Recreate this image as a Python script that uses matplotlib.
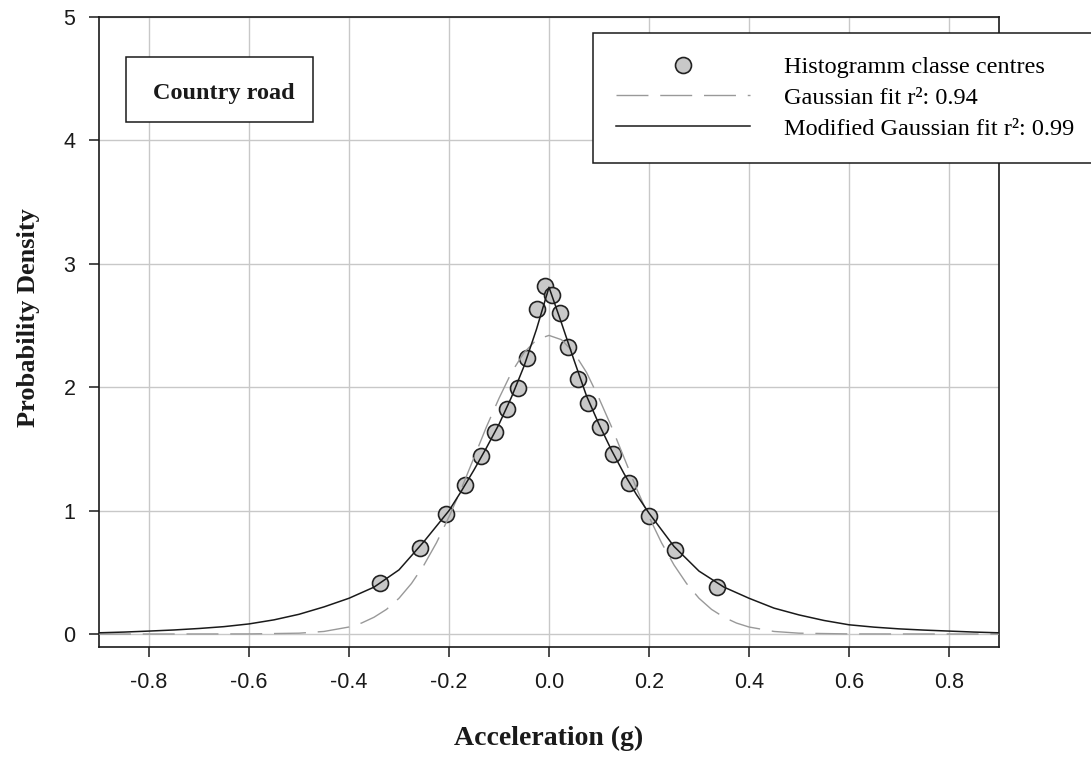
# Densidad de probabilidad de la aceleracion - carretera (Country road)
import numpy as np
import matplotlib
matplotlib.use('Agg')
import matplotlib.pyplot as plt
from matplotlib.patches import Rectangle

# Centros de clase del histograma
x_hist = [-0.338, -0.259, -0.206, -0.168, -0.137, -0.109, -0.085, -0.063, -0.044, -0.025, -0.009,
          0.006, 0.021, 0.038, 0.058, 0.077, 0.101, 0.128, 0.159, 0.199, 0.252, 0.336]
y_hist = [0.41, 0.70, 0.97, 1.21, 1.44, 1.64, 1.82, 1.99, 2.24, 2.63, 2.82,
          2.75, 2.60, 2.33, 2.065, 1.875, 1.68, 1.46, 1.225, 0.96, 0.68, 0.385]

x_gauss = [-0.9, -0.6, -0.5, -0.45, -0.4, -0.375, -0.35, -0.325, -0.3, -0.275, -0.25, -0.225, -0.2,
           -0.175, -0.15, -0.125, -0.1, -0.075, -0.05, -0.025, 0.0, 0.025, 0.05, 0.075, 0.1, 0.125,
           0.15, 0.175, 0.2, 0.225, 0.25, 0.275, 0.3, 0.325, 0.35, 0.375, 0.4, 0.45, 0.5, 0.6, 0.9]
y_gauss = [0.0, 0.001, 0.007, 0.021, 0.057, 0.089, 0.136, 0.20, 0.29, 0.41, 0.56, 0.74, 0.95,
           1.18, 1.43, 1.68, 1.91, 2.12, 2.28, 2.385, 2.42, 2.385, 2.28, 2.12, 1.91, 1.68,
           1.43, 1.18, 0.95, 0.74, 0.56, 0.41, 0.29, 0.20, 0.136, 0.089, 0.057, 0.021, 0.007, 0.001, 0.0]

x_mod = [-0.9, -0.85, -0.8, -0.75, -0.7, -0.65, -0.6, -0.55, -0.5, -0.45, -0.4, -0.35, -0.3, -0.25,
         -0.2, -0.175, -0.15, -0.125, -0.1, -0.075, -0.05, -0.025, 0.0, 0.025, 0.05, 0.075, 0.1,
         0.125, 0.15, 0.175, 0.2, 0.25, 0.3, 0.35, 0.4, 0.45, 0.5, 0.55, 0.6, 0.65, 0.7, 0.75, 0.8, 0.85, 0.9]
y_mod = [0.01, 0.016, 0.024, 0.033, 0.045, 0.06, 0.082, 0.115, 0.16, 0.22, 0.29, 0.38, 0.52, 0.75,
         1.0, 1.16, 1.33, 1.51, 1.70, 1.92, 2.17, 2.47, 2.81, 2.52, 2.22, 1.93, 1.70,
         1.49, 1.30, 1.13, 0.98, 0.71, 0.51, 0.38, 0.29, 0.21, 0.155, 0.11, 0.075, 0.056, 0.042, 0.032, 0.024, 0.016, 0.01]

x_ticks = [-0.8, -0.6, -0.4, -0.2, 0.0, 0.2, 0.4, 0.6, 0.8]
y_ticks = [0, 1, 2, 3, 4, 5]

serif = 'Liberation Serif'
sans = 'Liberation Sans'

fig = plt.figure(figsize=(10.91, 7.57), dpi=100)
ax = fig.add_axes([99/1091, 1-647/757, 900/1091, 630/757])

ax.plot(x_hist, y_hist, 'o', markersize=11.5, markerfacecolor='#c8c8c8',
        markeredgecolor='#222222', markeredgewidth=1.2, zorder=3,
        label='Histogramm classe centres')
ax.plot(x_gauss, y_gauss, color='#999999', linewidth=1.0, dashes=(23, 8.5), zorder=4,
        label='Gaussian fit r²: 0.94')
ax.plot(x_mod, y_mod, color='#1a1a1a', linewidth=1.1, zorder=5,
        label='Modified Gaussian fit r²: 0.99')

ax.set_xlim(-0.9, 0.9)
ax.set_ylim(-0.105, 5)
ax.set_xticks(x_ticks)
ax.set_xticklabels(['%.1f' % v for v in x_ticks], fontfamily=sans, fontsize=15.5)
ax.set_yticks(y_ticks)
ax.set_yticklabels([str(v) for v in y_ticks], fontfamily=sans, fontsize=15.5)
ax.tick_params(direction='out', length=7, width=1.1, color='#1a1a1a', labelcolor='#1a1a1a')
ax.tick_params(axis='x', pad=11)
ax.tick_params(axis='y', pad=10)
ax.grid(True, color='#c8c8c8', linewidth=1.0, zorder=0)
ax.set_axisbelow(True)
for s in ax.spines.values():
    s.set_linewidth(1.2)
    s.set_color('#1a1a1a')

fig.text(549/1091, 1-738/757, 'Acceleration (g)', fontfamily=serif, fontweight='bold',
         fontsize=20, ha='center', va='center', color='#1a1a1a')
fig.text(28/1091, 1-318/757, 'Probability Density', fontfamily=serif, fontweight='bold',
         fontsize=19, ha='center', va='center', rotation=90, color='#1a1a1a')

# Caja con el nombre del escenario
ax.add_patch(Rectangle((0.0297, 0.8338), 0.2084, 0.1027, transform=ax.transAxes,
                       facecolor='white', edgecolor='#1a1a1a', linewidth=1.1, zorder=6))
ax.text(0.0597, 0.8694, 'Country road', transform=ax.transAxes, fontfamily=serif,
        fontweight='bold', fontsize=17.5, ha='left', va='baseline', color='#1a1a1a', zorder=7)

leg = ax.legend(loc='upper left', bbox_to_anchor=(593/1091, 1-33/757),
                bbox_transform=fig.transFigure, prop={'family': serif, 'size': 17.5},
                frameon=True, fancybox=False, edgecolor='#1a1a1a', framealpha=1,
                handlelength=5.5, handletextpad=1.4, borderpad=0.95, labelspacing=0.36,
                borderaxespad=0, numpoints=1)
leg.get_frame().set_linewidth(1.1)
leg.set_zorder(10)

fig.savefig('out.png', dpi=100)
plt.close()
